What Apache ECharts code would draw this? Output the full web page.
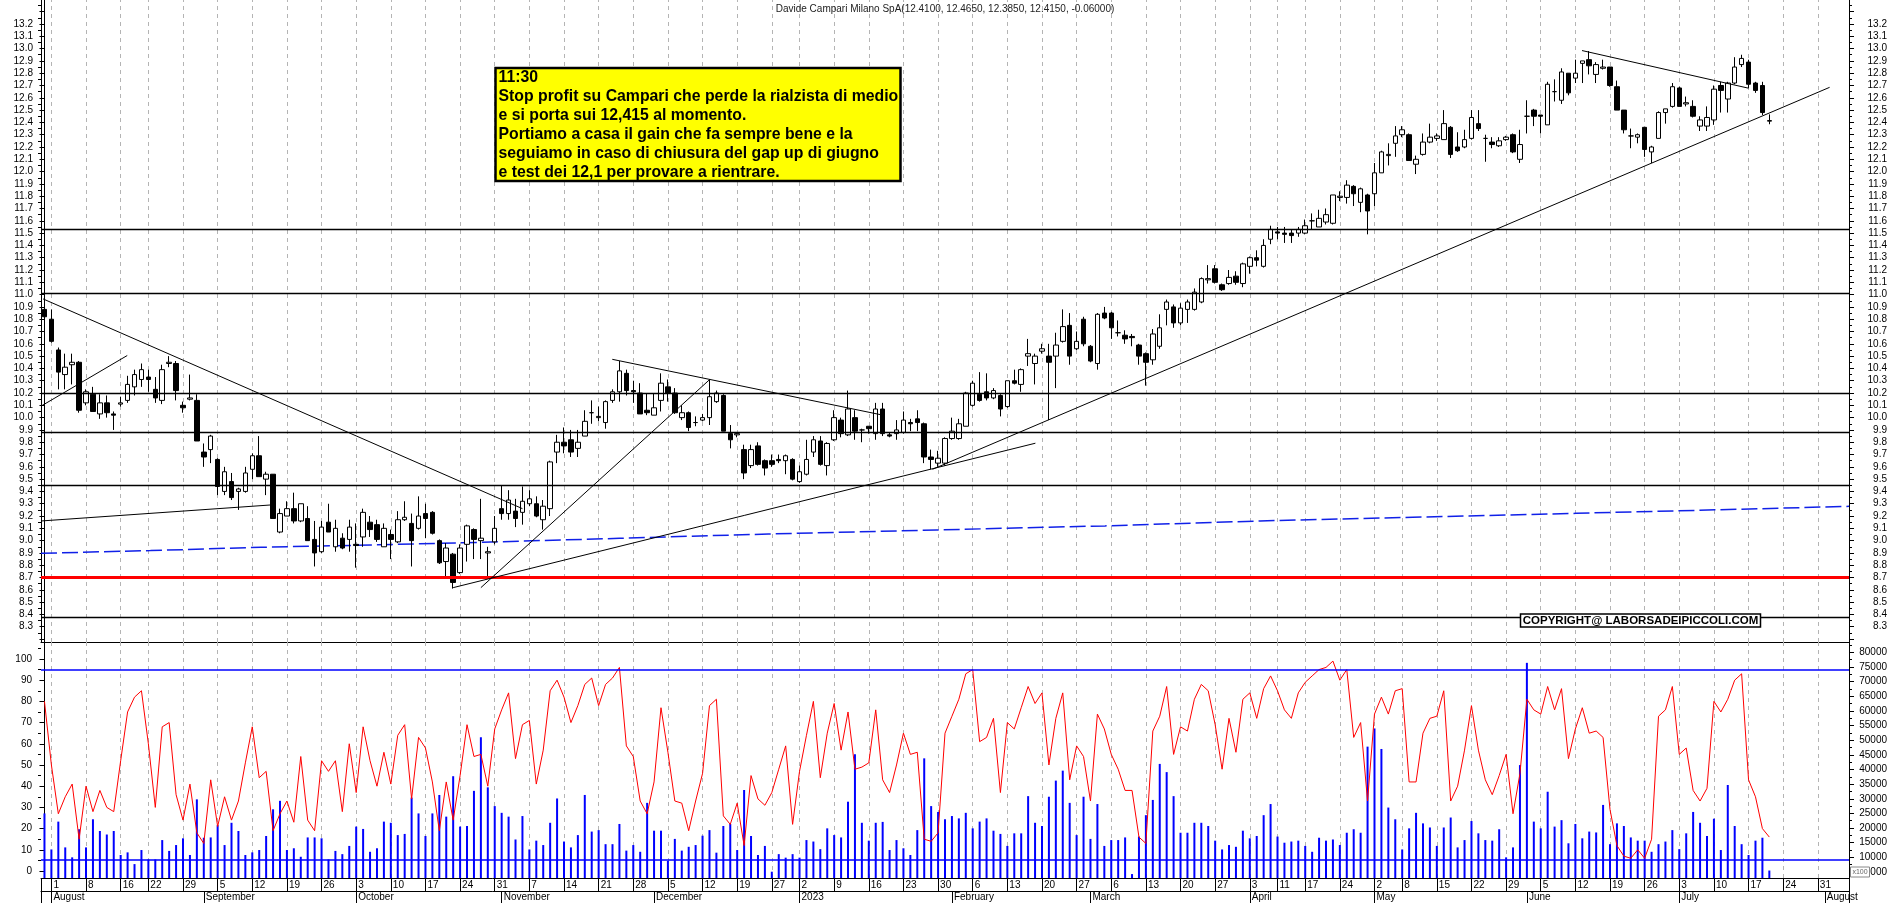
<!DOCTYPE html>
<html><head><meta charset="utf-8">
<script src="https://cdn.jsdelivr.net/npm/echarts@6/dist/echarts.min.js"></script>
<style>html,body{margin:0;padding:0;background:#fff}#c{width:1890px;height:903px}</style>
</head><body><div id="c"></div>
<script>
// ---------- calendar (trading days of Borsa Italiana) ----------
const holidays = ['2022-08-15','2022-12-26','2023-04-07','2023-04-10','2023-05-01'];
const firstDay = '2022-07-29', lastDay = '2023-08-04';
function buildDates(){
  const out=[]; const d=new Date(firstDay+'T00:00:00Z'); const end=new Date(lastDay+'T00:00:00Z').getTime();
  while(d.getTime()<=end){
    const wd=d.getUTCDay(); const s=d.toISOString().slice(0,10);
    if(wd!==0&&wd!==6&&holidays.indexOf(s)<0) out.push(s);
    d.setUTCDate(d.getUTCDate()+1);
  }
  return out;
}
const dates = buildDates();

// ---------- daily OHLC ----------
const open = [
10.88,10.80,10.55,10.35,10.43,10.45,10.12,10.19,10.03,10.12,
10.03,10.11,10.14,10.25,10.31,10.33,10.23,10.14,10.44,10.44,
10.10,10.15,10.14,9.72,9.74,9.66,9.40,9.48,9.40,9.40,
9.58,9.69,9.50,9.54,9.07,9.20,9.26,9.16,9.18,9.01,
8.91,9.15,8.95,9.02,9.01,8.97,9.03,9.15,9.13,8.95,
9.05,8.99,9.17,9.14,9.10,9.22,9.23,9.00,8.83,8.89,
8.74,8.97,9.09,9.00,8.90,8.99,9.26,9.22,9.24,9.23,
9.30,9.30,9.17,9.26,9.72,9.80,9.82,9.75,9.85,10.04,
10.00,9.96,10.14,10.21,10.36,10.22,10.20,10.06,10.02,10.14,
10.25,10.20,10.00,10.04,9.96,9.98,10.00,10.13,10.18,9.87,
9.86,9.74,9.61,9.77,9.65,9.65,9.66,9.65,9.66,9.48,
9.54,9.72,9.81,9.61,9.82,9.98,9.86,10.00,9.90,9.93,
9.87,10.07,9.86,9.87,9.88,9.96,9.99,9.95,9.68,9.63,
9.63,9.83,9.83,9.93,10.10,10.19,10.21,10.16,10.18,10.09,
10.30,10.27,10.50,10.44,10.54,10.50,10.50,10.62,10.75,10.56,
10.80,10.58,10.44,10.85,10.85,10.69,10.67,10.66,10.59,10.52,
10.47,10.58,10.88,10.90,10.77,10.88,10.88,10.94,11.12,11.21,
11.08,11.09,11.15,11.09,11.23,11.30,11.23,11.45,11.51,11.50,
11.50,11.50,11.50,11.60,11.55,11.59,11.58,11.79,11.79,11.88,
11.75,11.81,11.82,11.99,12.13,12.23,12.30,12.30,12.06,12.14,
12.24,12.27,12.26,12.36,12.20,12.20,12.27,12.39,12.27,12.24,
12.21,12.26,12.30,12.10,12.45,12.50,12.46,12.38,12.65,12.58,
12.80,12.76,12.88,12.91,12.79,12.84,12.85,12.69,12.50,12.29,
12.28,12.36,12.16,12.27,12.48,12.53,12.68,12.55,12.53,12.37,
12.37,12.42,12.70,12.59,12.72,12.87,12.89,12.72,12.70,12.41];
const high = [
10.96,10.88,10.57,10.52,10.52,10.46,10.23,10.25,10.19,10.18,
10.05,10.17,10.34,10.39,10.44,10.39,10.33,10.43,10.50,10.46,
10.13,10.35,10.19,9.79,9.86,9.67,9.60,9.55,9.43,9.60,
9.71,9.85,9.56,9.54,9.26,9.32,9.39,9.30,9.28,9.16,
9.16,9.30,9.17,9.06,9.17,9.14,9.26,9.20,9.17,9.14,
9.09,9.24,9.32,9.22,9.36,9.30,9.24,9.01,8.98,8.90,
8.97,9.13,9.10,9.34,8.95,9.20,9.45,9.41,9.34,9.44,
9.41,9.36,9.33,9.65,9.86,9.92,9.90,9.90,10.06,10.14,
10.09,10.14,10.23,10.46,10.39,10.30,10.28,10.20,10.20,10.36,
10.31,10.24,10.10,10.05,10.01,10.03,10.31,10.22,10.19,9.94,
9.88,9.78,9.78,9.80,9.66,9.70,9.70,9.70,9.67,9.61,
9.82,9.85,9.85,9.80,10.06,10.00,10.22,10.06,9.91,9.93,
10.12,10.12,9.88,9.98,10.05,9.99,10.06,9.96,9.74,9.73,
9.84,10.00,9.99,10.21,10.30,10.37,10.36,10.24,10.19,10.30,
10.39,10.40,10.64,10.52,10.60,10.60,10.69,10.88,10.85,10.70,
10.82,10.59,10.85,10.90,10.86,10.79,10.71,10.68,10.60,10.53,
10.72,10.84,10.96,10.92,10.93,10.96,11.05,11.14,11.24,11.24,
11.09,11.20,11.19,11.26,11.31,11.36,11.45,11.56,11.55,11.55,
11.53,11.55,11.61,11.66,11.69,11.70,11.81,11.84,11.93,11.89,
11.87,11.82,12.07,12.17,12.23,12.37,12.37,12.31,12.13,12.31,
12.39,12.31,12.50,12.37,12.32,12.34,12.50,12.50,12.30,12.28,
12.28,12.29,12.31,12.34,12.58,12.51,12.46,12.73,12.75,12.84,
12.80,12.91,12.90,12.98,12.89,12.91,12.85,12.74,12.50,12.35,
12.31,12.36,12.21,12.49,12.51,12.72,12.69,12.61,12.58,12.45,
12.53,12.70,12.73,12.73,12.93,12.95,12.91,12.73,12.73,12.465];
const low = [
10.66,10.61,10.23,10.23,10.27,10.04,10.10,10.05,9.99,10.00,
9.90,10.09,10.12,10.18,10.25,10.21,10.12,10.11,10.41,10.14,
10.04,10.14,9.81,9.60,9.63,9.37,9.37,9.33,9.25,9.39,
9.50,9.52,9.37,9.18,9.06,9.20,9.14,9.15,9.00,8.79,
8.90,9.07,8.91,8.93,8.91,8.78,8.95,9.03,8.99,8.95,
8.85,8.98,9.16,8.79,9.09,9.02,9.05,8.81,8.71,8.61,
8.73,8.83,8.85,8.85,8.71,8.97,9.17,9.17,9.11,9.13,
9.28,9.19,9.09,9.20,9.63,9.71,9.68,9.68,9.85,9.95,
9.97,9.91,10.12,10.13,10.18,10.12,10.03,10.02,10.02,10.05,
10.13,10.03,9.98,9.89,9.93,9.97,9.94,10.12,9.89,9.75,
9.84,9.50,9.59,9.61,9.53,9.60,9.63,9.54,9.49,9.47,
9.53,9.68,9.61,9.53,9.81,9.84,9.85,9.82,9.80,9.87,
9.82,9.85,9.84,9.82,9.87,9.89,9.89,9.63,9.58,9.60,
9.61,9.82,9.82,9.93,10.09,10.13,10.14,10.15,10.01,10.08,
10.27,10.21,10.42,10.27,10.52,9.98,10.24,10.61,10.43,10.55,
10.58,10.45,10.39,10.80,10.64,10.66,10.60,10.58,10.43,10.26,
10.43,10.56,10.75,10.73,10.75,10.77,10.87,10.93,11.09,11.09,
11.03,11.08,11.08,11.06,11.17,11.23,11.22,11.41,11.45,11.42,
11.42,11.47,11.49,11.53,11.55,11.57,11.57,11.76,11.74,11.72,
11.67,11.49,11.72,11.99,12.05,12.12,12.28,12.09,11.98,12.13,
12.23,12.25,12.26,12.11,12.16,12.19,12.26,12.33,12.08,12.19,
12.20,12.25,12.15,12.07,12.31,12.37,12.31,12.38,12.57,12.55,
12.62,12.72,12.72,12.79,12.72,12.83,12.69,12.50,12.31,12.19,
12.23,12.12,12.07,12.27,12.39,12.52,12.53,12.53,12.44,12.33,
12.33,12.38,12.48,12.48,12.71,12.85,12.68,12.64,12.46,12.385];
const close = [
10.82,10.62,10.37,10.41,10.45,10.06,10.21,10.05,10.12,10.04,
10.02,10.12,10.27,10.35,10.39,10.31,10.16,10.39,10.45,10.22,
10.08,10.16,9.81,9.68,9.85,9.44,9.56,9.35,9.42,9.55,
9.69,9.52,9.54,9.18,9.22,9.26,9.16,9.30,9.00,8.90,
9.11,9.07,9.10,8.94,9.11,8.96,9.23,9.09,9.01,9.10,
9.01,9.17,9.19,9.00,9.20,9.18,9.06,8.82,8.94,8.66,
8.94,9.12,9.01,9.02,8.91,9.10,9.22,9.33,9.18,9.32,
9.34,9.20,9.28,9.64,9.80,9.77,9.72,9.80,9.97,10.04,
10.01,10.13,10.21,10.38,10.22,10.21,10.03,10.04,10.08,10.28,
10.20,10.04,10.04,9.92,9.96,10.00,10.17,10.20,9.89,9.82,
9.87,9.55,9.74,9.62,9.59,9.62,9.65,9.69,9.50,9.56,
9.66,9.82,9.62,9.79,10.00,9.87,10.07,9.89,9.90,9.91,
10.07,9.87,9.85,9.90,9.98,9.95,9.96,9.68,9.66,9.67,
9.83,9.89,9.95,10.20,10.28,10.14,10.16,10.22,10.07,10.30,
10.28,10.39,10.52,10.50,10.56,10.45,10.59,10.74,10.50,10.62,
10.60,10.46,10.84,10.81,10.73,10.69,10.64,10.65,10.50,10.45,
10.68,10.73,10.94,10.77,10.89,10.94,11.02,11.13,11.13,11.10,
11.04,11.14,11.10,11.25,11.30,11.28,11.40,11.53,11.50,11.49,
11.48,11.53,11.56,11.60,11.62,11.65,11.81,11.80,11.89,11.82,
11.86,11.68,11.99,12.16,12.14,12.29,12.34,12.09,12.10,12.24,
12.28,12.29,12.39,12.14,12.17,12.26,12.44,12.35,12.27,12.22,
12.25,12.28,12.16,12.22,12.45,12.45,12.45,12.71,12.65,12.81,
12.64,12.80,12.90,12.86,12.87,12.85,12.70,12.50,12.34,12.29,
12.30,12.18,12.20,12.48,12.51,12.69,12.53,12.56,12.45,12.42,
12.44,12.67,12.66,12.72,12.85,12.92,12.71,12.66,12.48,12.415];

// ---------- oscillator (0-100) ----------
const oscillator = [
80,50,27,35,41,15,40,28,38,30, 28,52,75,82,85,60,30,68,70,36,
24,41,18,13,43,21,35,24,33,51, 68,44,47,19,27,33,23,54,24,19,
52,47,52,28,60,37,68,52,40,56, 41,64,69,34,63,58,42,19,42,24,
45,69,54,55,40,67,76,84,53,69, 71,41,57,85,90,82,70,78,88,91,
78,88,91,96,59,54,33,27,42,77, 56,33,32,19,33,46,78,81,26,22,
32,12,45,34,31,37,48,59,22,47, 64,80,44,65,79,57,75,48,49,51,
76,43,37,50,65,55,56,15,14,18, 65,73,81,93,95,61,63,72,37,70,
67,77,87,79,84,50,72,84,43,59, 54,33,74,67,55,48,38,38,16,13,
66,73,87,55,68,66,81,88,85,69, 48,72,56,81,84,72,86,92,85,76,
72,84,89,92,95,96,99,90,95,63, 70,33,74,82,74,85,86,42,42,65,
72,73,85,33,40,57,78,57,43,36, 45,55,27,46,81,76,74,87,76,86,
53,67,77,65,66,63,29,12,7,6,   10,6,15,73,76,87,55,58,38,33,
39,80,75,81,90,93,43,35,20,16];

// ---------- volume (thousands of shares) ----------
const volumeK = [
25,12.7,22.2,13.4,10,19.6,13.4,23,19,17.8, 19,10.8,11.7,7.7,12.5,9.3,9.3,15.9,12.2,14.2,
16.5,10.8,29.8,16.7,16.8,21,14.2,21.8,19,10.8, 11.7,12.5,17.3,26.4,29.3,12.5,13.1,10.2,16.8,16.8,
16.5,9.3,12.2,11.1,13.9,20.5,19.7,11.9,13.1,22.2, 21.8,17.6,18,30.4,25,17.3,25,31.3,23.9,37.7,
20.5,20.7,32.7,51,33.9,27.5,25.2,23.9,16.1,24.1, 12.7,15.7,14.2,21.8,30.1,15.4,13.4,17.6,31.3,18.8,
19.3,14.5,14.5,21.4,12.3,14.2,11.9,28.6,19.1,19.1, 8.8,16.3,12.3,13.6,14.2,17.4,19.3,11.6,20.7,21.4,
12.5,33,17.3,10.8,13.9,5.1,11.1,9.9,11.1,9.9, 15.9,15.4,12.8,19.9,17.6,16.8,29,45.2,21.8,15.7,
21.8,22.1,12.5,15.9,13.1,10.8,19.3,43.8,27.5,25.5, 23,24.1,23.3,25.2,19.9,22.2,23.3,19.1,18,13.9,
18.2,18.2,30.9,21.8,20.7,30.7,36.2,39.6,28.6,17.6, 30.7,16.3,28.2,13.9,15.9,15.9,16.8,4.3,17.1,24.4,
29.6,41.9,39.1,30.9,18.4,18.4,21.8,21.8,20.7,15.7, 12.7,14.2,13.6,19.1,16.5,17.3,24.4,28.2,17.1,15,
15.4,15.7,13.9,11.9,16.7,15.7,16.1,14.2,18.4,19.6, 18.4,47.8,54,47,27,23,12.7,19.9,25.2,21.6,
20.2,13.9,20.2,23.6,13.4,15.9,22.4,18.2,15.9,15.7, 19.6,10,13.4,41.5,76.4,22.2,19.9,32.4,20.5,22.7,
14.8,21.4,16.5,18.8,18.5,27.9,14.5,21.6,20.7,16.8, 15.7,15.7,11.9,14.5,15.4,19.3,12.8,18.2,25.5,21.8,
17.3,23.2,12.5,34.7,20.7,14.5,10.8,15.7,16.7,5.5];

// ---------- long moving average (sampled points: [dayIndex, price]) ----------
const maPoints = [[-0.5,8.897],[15.3,8.919],[31.3,8.946],[47.3,8.965],[63.3,8.987],[83,9.019],
  [104.5,9.054],[128.8,9.087],[153.1,9.12],[175.5,9.16],[197.5,9.19],[221.1,9.222],[244.7,9.255],[260.5,9.279]];

// ---------- drawn levels and trendlines ----------
const blackLevels = [11.53, 11.01, 10.20, 9.88, 9.45, 8.38];
const redLevel = 8.70;
const trendlines = [
  [[-0.2,10.965],[69,9.26]],
  [[-0.45,10.095],[11.95,10.505]],
  [[-0.45,9.16],[32.67,9.29]],
  [[59,8.618],[143.05,9.792]],
  [[63,8.618],[96.08,10.312]],
  [[81.97,10.474],[120.87,10.022]],
  [[128.2,9.58],[257.7,12.685]],
  [[221.96,12.984],[246,12.678]]
];
const oscLevels = [95, 5.5];

// ---------- tick labels ----------
const priceLabels = [8.3,8.4,8.5,8.6,8.7,8.8,8.9,9.0,9.1,9.2,9.3,9.4,9.5,9.6,9.7,9.8,9.9,10.0,10.1,10.2,10.3,10.4,10.5,10.6,10.7,10.8,10.9,11.0,11.1,11.2,11.3,11.4,11.5,11.6,11.7,11.8,11.9,12.0,12.1,12.2,12.3,12.4,12.5,12.6,12.7,12.8,12.9,13.0,13.1,13.2];
const oscLabels = [0,10,20,30,40,50,60,70,80,90,100];
const volLabelsK = [5,10,15,20,25,30,35,40,45,50,55,60,65,70,75,80];
const monthNames = ['January','February','March','April','May','June','July','August','September','October','November','December'];

const titleText = 'Davide Campari Milano SpA(12.4100, 12.4650, 12.3850, 12.4150, -0.06000)';
const noteLines = ['11:30','Stop profit su Campari che perde la rialzista di medio','e si porta sui 12,415 al momento.',
  'Portiamo a casa il gain che fa sempre bene e la','seguiamo in caso di chiusura del gap up di giugno','e test dei 12,1 per provare a rientrare.'];
const copyrightText = 'COPYRIGHT@ LABORSADEIPICCOLI.COM';

// ---------- helpers ----------
function wd(s){ return new Date(s+'T00:00:00Z').getUTCDay(); }
function isWeekStart(i){ return i>0 && wd(dates[i]) < wd(dates[i-1]); }
function isMonthStart(i){ return i>0 && dates[i].slice(5,7)!==dates[i-1].slice(5,7); }
const weekIdx = dates.map((d,i)=>i).filter(isWeekStart);

const FONT = '"Liberation Sans", Arial, sans-serif';
const N = dates.length;
const candleData = open.map((o,i)=>[o, close[i], low[i], high[i]]);

const PMIN = 8.176, PMAX = 13.395;
const OMIN = -3.3, OMAX = 108;
const VMIN = 2.952, VMAX = 83.516;

function priceAxis(pos, labels, ticks, tickLen, showLabel){
  return {
    type:'value', gridIndex:0, position:pos, min:PMIN, max:PMAX, scale:true,
    axisLine:{show:true, lineStyle:{color:'#000', width:1}},
    axisTick:{show:true, customValues:ticks, length:tickLen, lineStyle:{color:'#000'}},
    axisLabel:{show:showLabel, customValues:labels, formatter:v=>Number(v).toFixed(1), fontSize:10, color:'#000',
      fontFamily:FONT, margin: pos==='left'?8:38, align: 'right'},
    splitLine:{show:false}
  };
}
const priceMajor = [8.2].concat(priceLabels,[13.3]);
const priceMinor = priceMajor.map(v=>+(v+0.05).toFixed(2));
const oscMinor = [5,15,25,35,45,55,65,75,85,95,105];
const volMinor = volLabelsK.map(v=>v-2.5).concat([82.5]);

const chart = echarts.init(document.getElementById('c'), null, {renderer:'canvas'});
const option = {
  animation:false,
  backgroundColor:'#fff',
  textStyle:{fontFamily:FONT},
  grid:[{left:41, right:41, top:0, height:642},{left:41, right:41, top:642, height:236}],
  xAxis:[
    {type:'category', gridIndex:0, data:dates, boundaryGap:true,
     axisLine:{show:true, onZero:false, lineStyle:{color:'#000'}}, axisTick:{show:false}, axisLabel:{show:false}, splitLine:{show:false}},
    {type:'category', gridIndex:1, data:dates, boundaryGap:true, position:'bottom',
     axisLine:{show:true, onZero:false, lineStyle:{color:'#000'}},
     axisTick:{show:true, alignWithLabel:true, interval:(i)=>isWeekStart(i), length:13, lineStyle:{color:'#000'}},
     axisLabel:{show:true, interval:(i)=>isWeekStart(i), formatter:(v)=>String(parseInt(v.slice(8),10)),
       align:'left', margin:2, padding:[0,0,0,2], fontSize:10, color:'#000', fontFamily:FONT},
     splitLine:{show:false}},
    {type:'category', gridIndex:1, data:dates, boundaryGap:true, position:'bottom', offset:13,
     axisLine:{show:true, onZero:false, lineStyle:{color:'#000'}},
     axisTick:{show:true, alignWithLabel:true, interval:(i)=>isMonthStart(i), length:12, lineStyle:{color:'#000'}},
     axisLabel:{show:true, interval:(i)=>isMonthStart(i),
       formatter:(v)=>{const m=parseInt(v.slice(5,7),10); return m===1? v.slice(0,4) : monthNames[m-1];},
       align:'left', margin:1, padding:[0,0,0,2], fontSize:10, color:'#000', fontFamily:FONT},
     splitLine:{show:false}},
    {type:'value', gridIndex:0, min:-0.5, max:N-0.5, show:false},
    {type:'value', gridIndex:1, min:-0.5, max:N-0.5, show:false}
  ],
  yAxis:[
    priceAxis('left', priceLabels, priceMajor, 5, true),
    priceAxis('right', priceLabels, priceMajor, 5, true),
    priceAxis('left', [], priceMinor, 3, false),
    priceAxis('right', [], priceMinor, 3, false),
    {type:'value', gridIndex:1, position:'left', min:OMIN, max:OMAX,
     axisLine:{show:true, lineStyle:{color:'#000'}},
     axisTick:{show:true, customValues:oscLabels, length:5, lineStyle:{color:'#000'}},
     axisLabel:{customValues:oscLabels, fontSize:10, color:'#000', fontFamily:FONT, margin:9},
     splitLine:{show:false}},
    {type:'value', gridIndex:1, position:'right', min:VMIN, max:VMAX,
     axisLine:{show:true, lineStyle:{color:'#000'}},
     axisTick:{show:true, customValues:volLabelsK, length:5, lineStyle:{color:'#000'}},
     axisLabel:{customValues:volLabelsK, formatter:v=>String(Math.round(v*1000)), fontSize:10, color:'#000',
       fontFamily:FONT, margin:38, align:'right'},
     splitLine:{show:false}},
    {type:'value', gridIndex:1, position:'left', min:OMIN, max:OMAX,
     axisLine:{show:false}, axisTick:{show:true, customValues:oscMinor, length:3, lineStyle:{color:'#000'}},
     axisLabel:{show:false}, splitLine:{show:false}},
    {type:'value', gridIndex:1, position:'right', min:VMIN, max:VMAX,
     axisLine:{show:false}, axisTick:{show:true, customValues:volMinor, length:3, lineStyle:{color:'#000'}},
     axisLabel:{show:false}, splitLine:{show:false}}
  ],
  series:[
    {type:'line', name:'grid0', xAxisIndex:3, yAxisIndex:0, data:[], silent:true, z:1,
     markLine:{silent:true, symbol:['none','none'], label:{show:false}, z:1, animation:false,
       lineStyle:{color:'#b4b4b4', type:[4,4], width:1},
       data: weekIdx.map(i=>({xAxis:i}))}},
    {type:'line', name:'ma', xAxisIndex:3, yAxisIndex:0, data:maPoints, showSymbol:false, symbol:'none', z:2, silent:true,
     lineStyle:{color:'#1020e8', width:1.5, type:[16,5]}},
    {type:'candlestick', name:'Campari', xAxisIndex:0, yAxisIndex:0, data:candleData, barWidth:5, z:3,
     itemStyle:{color:'#ffffff', color0:'#000000', borderColor:'#000000', borderColor0:'#000000', borderColorDoji:'#000000', borderWidth:1},
     markLine:{silent:true, symbol:['none','none'], label:{show:false}, z:4, animation:false,
       data: blackLevels.map(v=>({yAxis:v, lineStyle:{color:'#000', width:1.3, type:'solid'}}))
         .concat([{yAxis:redLevel, lineStyle:{color:'#ff0000', width:3, type:'solid'}}])}},
    {type:'line', name:'trend', xAxisIndex:3, yAxisIndex:0, data:[], silent:true, z:4,
     markLine:{silent:true, symbol:['none','none'], label:{show:false}, z:4, animation:false,
       lineStyle:{color:'#000', width:1, type:'solid'},
       data: trendlines.map(t=>[{coord:t[0]},{coord:t[1]}])}},
    {type:'line', name:'grid1', xAxisIndex:4, yAxisIndex:4, data:[], silent:true, z:1,
     markLine:{silent:true, symbol:['none','none'], label:{show:false}, z:1, animation:false,
       lineStyle:{color:'#b4b4b4', type:[4,4], width:1},
       data: weekIdx.map(i=>({xAxis:i}))}},
    {type:'bar', name:'volume', xAxisIndex:1, yAxisIndex:5, data:volumeK, barWidth:2, z:2, silent:true,
     itemStyle:{color:'#0000ff'}},
    {type:'line', name:'osc', xAxisIndex:1, yAxisIndex:4, data:oscillator, showSymbol:false, symbol:'none', z:3, silent:true,
     lineStyle:{color:'#ff0000', width:1},
     markLine:{silent:true, symbol:['none','none'], label:{show:false}, z:4, animation:false,
       lineStyle:{color:'#0000ff', width:1.5, type:'solid'},
       data: oscLevels.map(v=>({yAxis:v}))}}
  ],
  graphic:[
    {type:'text', x:945, y:9, z:50, style:{text:titleText, font:'10px '+FONT, fill:'#222', align:'center', verticalAlign:'middle'}},
    {type:'rect', z:60, shape:{x:495.5, y:68, width:405, height:113}, style:{fill:'#ffff00', stroke:'#000', lineWidth:2.5}},
    {type:'text', z:61, x:498.5, y:68, scaleX:0.93, style:{text:noteLines.join('\n'), font:'bold 17px '+FONT, lineHeight:19, fill:'#000', align:'left', verticalAlign:'top'}},
    {type:'rect', z:60, shape:{x:1520.5, y:614, width:240, height:13}, style:{fill:'#fff', stroke:'#000', lineWidth:1.5}},
    {type:'text', z:61, x:1640.5, y:621, style:{text:copyrightText, font:'bold 11.5px '+FONT, fill:'#000', align:'center', verticalAlign:'middle'}},
    {type:'line', z:50, shape:{x1:41.5, y1:878, x2:41.5, y2:903}, style:{stroke:'#000', lineWidth:1}},
    {type:'line', z:50, shape:{x1:1849.5, y1:878, x2:1849.5, y2:903}, style:{stroke:'#000', lineWidth:1}},
    {type:'rect', z:70, shape:{x:1850.5, y:867, width:19, height:10}, style:{fill:'#fff', stroke:'#888', lineWidth:1}},
    {type:'text', z:71, x:1860, y:872.5, style:{text:'x100', font:'7px '+FONT, fill:'#666', align:'center', verticalAlign:'middle'}}
  ]
};
chart.setOption(option);
</script></body></html>
